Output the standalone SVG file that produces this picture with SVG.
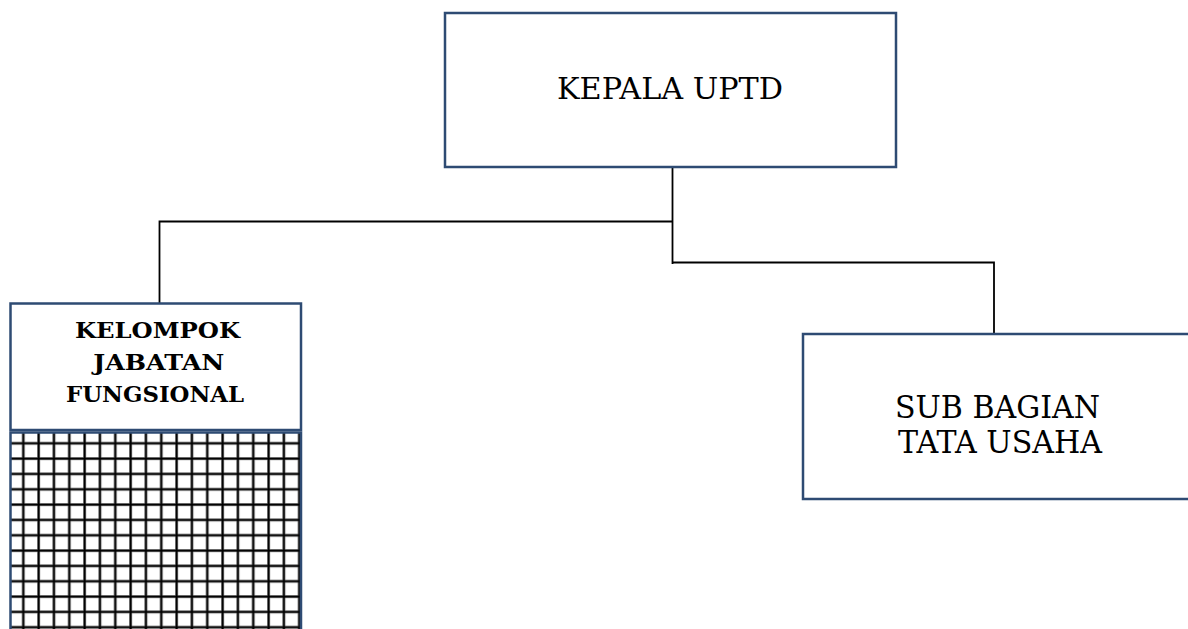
<svg xmlns="http://www.w3.org/2000/svg" width="1188" height="629" viewBox="0 0 1188 629">
  <style>
    .box { fill: #ffffff; stroke: #2e4b73; stroke-width: 2.5; }
    .conn { fill: none; stroke: #000000; stroke-width: 1.8; }
    .lbl { font-family: "DejaVu Serif", "Liberation Serif", serif; fill: #000000; text-anchor: middle; }
    .big { font-size: 29.5px; }
    .mid { font-size: 32px; }
    .bold { font-size: 22px; font-weight: bold; }
  </style>
  <defs>
    <pattern id="grid" patternUnits="userSpaceOnUse" x="21.7" y="441.7" width="15.33" height="15.33">
      <rect x="0" y="0" width="3.2" height="15.33" fill="#a8a8a8"/>
      <rect x="0" y="0" width="15.33" height="3.2" fill="#a8a8a8"/>
      <rect x="0.6" y="0" width="2" height="15.33" fill="#000000"/>
      <rect x="0" y="0.6" width="15.33" height="2" fill="#000000"/>
    </pattern>
  </defs>
  <rect width="1188" height="629" fill="#ffffff"/>

  <g id="connectors">
    <path class="conn" d="M672.5 167 V264"/>
    <path class="conn" d="M672.5 221.5 H159.5 V303"/>
    <path class="conn" d="M672.5 262.5 H994 V334"/>
  </g>

  <g id="kepala">
    <rect class="box" x="445" y="13" width="451" height="154"/>
    <text class="lbl big" x="670" y="99" textLength="226" lengthAdjust="spacingAndGlyphs">KEPALA UPTD</text>
  </g>

  <g id="kelompok">
    <rect class="box" x="10.5" y="303.5" width="290.5" height="126.5"/>
    <text class="lbl bold" x="157.5" y="338.3" textLength="165" lengthAdjust="spacingAndGlyphs">KELOMPOK</text>
    <text class="lbl bold" x="158.8" y="370" textLength="131" lengthAdjust="spacingAndGlyphs">JABATAN</text>
    <text class="lbl bold" x="155" y="401.7" textLength="178" lengthAdjust="spacingAndGlyphs">FUNGSIONAL</text>
  </g>

  <g id="kelompok-grid">
    <rect x="10.5" y="432.5" width="290.5" height="210" fill="url(#grid)"/>
    <rect x="10.5" y="432.5" width="290.5" height="210" fill="none" stroke="#2e4b73" stroke-width="2.5"/>
  </g>

  <g id="subbagian">
    <rect class="box" x="803" y="334" width="400" height="165"/>
    <text class="lbl mid" x="997.5" y="418" textLength="205" lengthAdjust="spacingAndGlyphs">SUB BAGIAN</text>
    <text class="lbl mid" x="1000" y="453" textLength="204" lengthAdjust="spacingAndGlyphs">TATA USAHA</text>
  </g>
</svg>
